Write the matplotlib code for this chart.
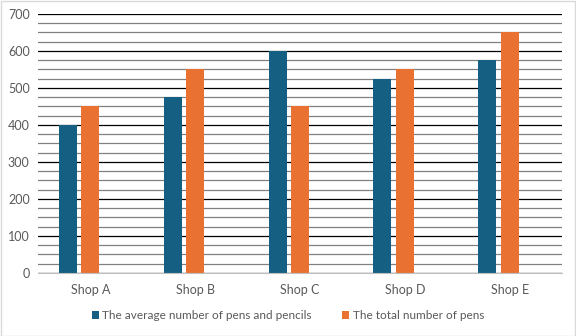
import matplotlib.pyplot as plt
from matplotlib.patches import Rectangle
import numpy as np

shops = ['Shop A', 'Shop B', 'Shop C', 'Shop D', 'Shop E']
avg_pens_pencils = [400, 475, 600, 525, 575]
total_pens = [450, 550, 450, 550, 650]

blue = '#156082'
orange = '#E97132'
text_gray = '#595959'

plt.rcParams['font.family'] = ['Lato', 'DejaVu Sans']

fig = plt.figure(figsize=(5.76, 3.36), dpi=100)
ax = fig.add_axes([0.066, 0.1875, 0.91, 0.771])

x = np.arange(len(shops))
w = 0.172
ax.bar(x - 0.215, avg_pens_pencils, w, color=blue, zorder=3,
       label='The average number of pens and pencils')
ax.bar(x, total_pens, w, color=orange, zorder=3,
       label='The total number of pens')

ax.set_xlim(-0.5, len(shops) - 0.5)
ax.set_ylim(0, 700)
ax.set_yticks(range(0, 701, 100))
ax.set_yticks(range(0, 701, 25), minor=True)
ax.grid(axis='y', which='major', color='black', linewidth=0.9, zorder=1)
ax.grid(axis='y', which='minor', color='#808080', linewidth=0.9, zorder=1)
ax.set_xticks(x)
ax.set_xticklabels(shops)
ax.tick_params(axis='both', which='both', length=0, labelsize=9, colors=text_gray)
ax.tick_params(axis='x', pad=8)
ax.tick_params(axis='y', pad=6)

for side in ['top', 'right', 'left']:
    ax.spines[side].set_visible(False)
ax.spines['bottom'].set_color('#bfbfbf')
ax.spines['bottom'].set_zorder(4)

leg = fig.legend(loc='center', bbox_to_anchor=(0.5, 0.06), ncol=2, frameon=False,
                 fontsize=8.5, handlelength=0.6, handleheight=0.6, handletextpad=0.3,
                 columnspacing=2.6)
for t in leg.get_texts():
    t.set_color(text_gray)

# light frame around the chart area
fig.patches.append(Rectangle((0.001, 0.001), 0.997, 0.996, transform=fig.transFigure,
                             fill=False, edgecolor='#d9d9d9', linewidth=1))

fig.savefig('out.png', dpi=100)
